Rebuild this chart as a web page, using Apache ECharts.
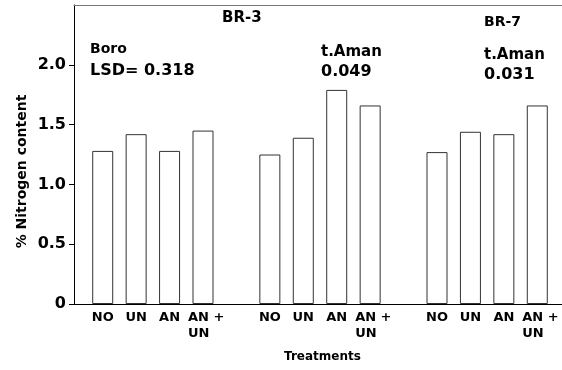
<!DOCTYPE html>
<html>
<head>
<meta charset="utf-8">
<script src="https://cdn.jsdelivr.net/npm/echarts@6/dist/echarts.min.js"></script>
<style>html,body{margin:0;padding:0;background:#fff;}#c{width:562px;height:370px;}</style>
</head>
<body>
<div id="c"></div>
<script>
// Data
var treatments = ['NO', 'UN', 'AN', 'AN+UN'];
var boroBR3 = [1.28, 1.42, 1.28, 1.45];
var amanBR3 = [1.25, 1.39, 1.79, 1.66];
var amanBR7 = [1.27, 1.44, 1.42, 1.66];
var yTicks = [0, 0.5, 1.0, 1.5, 2.0];

// Build slots: three groups separated by an empty slot
var groups = [boroBR3, amanBR3, amanBR7];
var slots = [], values = [];
groups.forEach(function (g, gi) {
  if (gi > 0) { slots.push(''); values.push('-'); }
  treatments.forEach(function (t, i) { slots.push(t); values.push(g[i]); });
});

var FONT = 'DejaVu Sans';
var chart = echarts.init(document.getElementById('c'), null, {renderer: 'canvas'});
chart.setOption({
  animation: false,
  backgroundColor: '#fff',
  grid: [
    {left: 74, right: 0, top: 5, bottom: 66},
    {left: 86, right: 8, top: 5, bottom: 66}
  ],
  xAxis: [
    {type: 'value', gridIndex: 0, min: 0, max: 1, position: 'bottom',
     axisLine: {show: true, onZero: false, lineStyle: {color: '#000', width: 1}},
     axisTick: {show: false}, axisLabel: {show: false}, splitLine: {show: false}},
    {type: 'value', gridIndex: 0, min: 0, max: 1, position: 'top',
     axisLine: {show: true, onZero: false, lineStyle: {color: '#777', width: 1}},
     axisTick: {show: false}, axisLabel: {show: false}, splitLine: {show: false}},
    {type: 'category', gridIndex: 1, data: slots, position: 'bottom',
     axisLine: {show: false}, axisTick: {show: false},
     axisLabel: {
       interval: 0, margin: 6, color: '#000', fontFamily: FONT, fontWeight: 'bold', fontSize: 13,
       lineHeight: 16,
       formatter: function (v) {
         if (v === 'AN+UN') return '{a|AN +}\n{b|UN}';
         return v;
       },
       rich: {
         a: {fontFamily: FONT, fontWeight: 'bold', fontSize: 13, lineHeight: 16, width: 36, align: 'left', padding: [0, 0, 0, 6]},
         b: {fontFamily: FONT, fontWeight: 'bold', fontSize: 13, lineHeight: 16, width: 36, align: 'left', padding: [0, 0, 0, 6]}
       }
     }}
  ],
  yAxis: [
    {type: 'value', gridIndex: 0, min: 0, max: 2.5, interval: 0.5,
     axisLine: {show: true, lineStyle: {color: '#000', width: 1}},
     axisTick: {show: true, length: 5, customValues: yTicks, lineStyle: {color: '#000'}},
     axisLabel: {margin: 8, color: '#000', fontFamily: FONT, fontWeight: 'bold', fontSize: 16,
       customValues: yTicks,
       formatter: function (v) { return v === 0 ? '0' : v.toFixed(1); }},
     splitLine: {show: false}},
    {type: 'value', gridIndex: 1, min: 0, max: 2.5, show: false}
  ],
  series: [{
    type: 'bar', xAxisIndex: 2, yAxisIndex: 1, data: values, barWidth: 21,
    itemStyle: {color: '#fff', borderColor: '#333', borderWidth: 1}
  }],
  graphic: [
    {type: 'text', x: 90, y: 49, style: {text: 'Boro', font: 'bold 14px ' + FONT, fill: '#000', verticalAlign: 'middle'}},
    {type: 'text', x: 90, y: 71, style: {text: 'LSD= 0.318', font: 'bold 16px ' + FONT, fill: '#000', verticalAlign: 'middle'}},
    {type: 'text', x: 222, y: 18.5, style: {text: 'BR-3', font: 'bold 15px ' + FONT, fill: '#000', verticalAlign: 'middle'}},
    {type: 'text', x: 321, y: 52.5, style: {text: 't.Aman', font: 'bold 15px ' + FONT, fill: '#000', verticalAlign: 'middle'}},
    {type: 'text', x: 321, y: 72, style: {text: '0.049', font: 'bold 16px ' + FONT, fill: '#000', verticalAlign: 'middle'}},
    {type: 'text', x: 484, y: 22.5, style: {text: 'BR-7', font: 'bold 14px ' + FONT, fill: '#000', verticalAlign: 'middle'}},
    {type: 'text', x: 484, y: 55, style: {text: 't.Aman', font: 'bold 15px ' + FONT, fill: '#000', verticalAlign: 'middle'}},
    {type: 'text', x: 484, y: 75, style: {text: '0.031', font: 'bold 16px ' + FONT, fill: '#000', verticalAlign: 'middle'}},
    {type: 'text', x: 22, y: 171.5, rotation: Math.PI / 2,
     style: {text: '% Nitrogen content', font: 'bold 14px ' + FONT, fill: '#000', align: 'center', verticalAlign: 'middle'}},
    {type: 'text', x: 322.5, y: 357, style: {text: 'Treatments', font: 'bold 12px ' + FONT, fill: '#000', align: 'center', verticalAlign: 'middle'}}
  ]
});
</script>
</body>
</html>
